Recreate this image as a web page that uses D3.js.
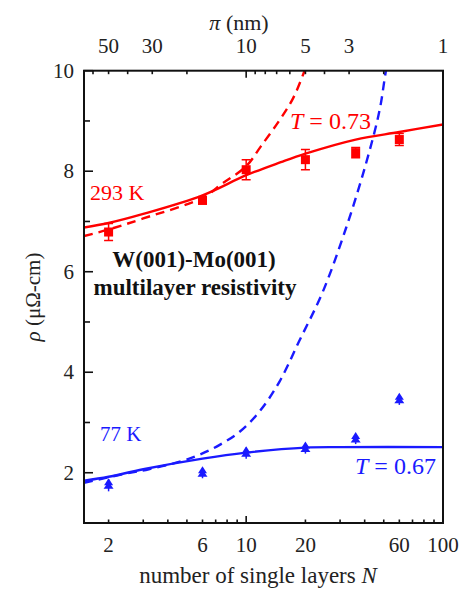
<!DOCTYPE html>
<html><head><meta charset="utf-8">
<script src="https://cdn.jsdelivr.net/npm/d3@7"></script>
<style>html,body{margin:0;padding:0;background:#fff;}svg{display:block;}</style>
</head><body>
<script>
// ---- data ----
const layersN = [2, 6, 10, 20, 36, 60];
const rho293 = [6.79, 7.42, 8.03, 8.23, 8.37, 8.63];
const err293 = [0.17, 0.07, 0.2, 0.2, 0.1, 0.12];
const rho77 = [1.77, 2.01, 2.41, 2.50, 2.69, 3.47];
const err77 = [0.1, 0.08, 0.09, 0.08, 0.08, 0.08];

const fit293N = [1.5, 2, 3, 6, 10, 15, 20, 36, 60, 100];
const fit293V = [6.88, 6.97, 7.15, 7.52, 7.92, 8.18, 8.35, 8.63, 8.78, 8.93];
const dash293N = [1.5, 2, 3, 6, 7.6, 10, 11.9, 14.8, 17.3, 19.8, 22];
const dash293V = [6.71, 6.84, 7.06, 7.47, 7.76, 8.1, 8.5, 9.02, 9.45, 10, 10.5];

const fit77N = [1.5, 2, 3, 6, 10, 20, 30, 100];
const fit77V = [1.84, 1.92, 2.07, 2.28, 2.40, 2.50, 2.51, 2.51];
const dash77N = [1.5, 2.36, 3.2, 4.6, 5.8, 7.3, 9.3, 11.7, 14.8, 18.6, 24.5, 32.3, 40.6, 47.6, 51.3, 55];
const dash77V = [1.80, 1.97, 2.07, 2.22, 2.36, 2.55, 2.82, 3.22, 3.82, 4.62, 5.6, 6.89, 8.15, 9.21, 10, 10.6];

const xTickLabels = [2, 6, 10, 20, 60, 100];
const xMinor = [2,3,4,5,6,7,8,9,10,20,30,40,50,60,70,80,90,100];
const topTickLabels = [50, 30, 10, 5, 3, 1];
const topMinor = [60,50,40,30,20,10,9,8,7,6,5,4,3,2,1];
const yTickLabels = [2, 4, 6, 8, 10];
const yMinor = [1, 3, 5, 7, 9];

// ---- layout ----
const W = 470, H = 589;
const L = 84, R = 443, T = 70.7, B = 523;
const RED = "#ff0000", BLUE = "#1a1aff";
const FONT = "'Liberation Serif', 'Times New Roman', serif";

const svg = d3.select("body").append("svg").attr("width", W).attr("height", H)
  .style("font-family", FONT);

const x = d3.scaleLog().domain([1.5, 100]).range([L, R]);
const y = d3.scaleLinear().domain([1, 10]).range([B, T]);
const piToN = p => 100 / p;

svg.append("clipPath").attr("id", "clip").append("rect")
  .attr("x", L).attr("y", T).attr("width", R - L).attr("height", B - T);

const g = svg.append("g").attr("clip-path", "url(#clip)");

const line = d3.line().x(d => x(d[0])).y(d => y(d[1])).curve(d3.curveCatmullRom.alpha(0.5));
const zip = (a, b) => a.map((v, i) => [v, b[i]]);

g.append("path").attr("d", line(zip(dash293N, dash293V))).attr("fill", "none")
  .attr("stroke", RED).attr("stroke-width", 2.4).attr("stroke-dasharray", "9,6");
g.append("path").attr("d", line(zip(fit293N, fit293V))).attr("fill", "none")
  .attr("stroke", RED).attr("stroke-width", 2.4);
g.append("path").attr("d", line(zip(dash77N, dash77V))).attr("fill", "none")
  .attr("stroke", BLUE).attr("stroke-width", 2.4).attr("stroke-dasharray", "9,6");
g.append("path").attr("d", line(zip(fit77N, fit77V))).attr("fill", "none")
  .attr("stroke", BLUE).attr("stroke-width", 2.4);

// red squares with error bars
layersN.forEach((n, i) => {
  const cx = x(n), cy = y(rho293[i]);
  const y1 = y(rho293[i] + err293[i]), y2 = y(rho293[i] - err293[i]);
  g.append("line").attr("x1", cx).attr("x2", cx).attr("y1", y1).attr("y2", y2).attr("stroke", RED).attr("stroke-width", 1.5);
  [y1, y2].forEach(yy => g.append("line").attr("x1", cx - 4.5).attr("x2", cx + 4.5).attr("y1", yy).attr("y2", yy).attr("stroke", RED).attr("stroke-width", 1.5));
  g.append("rect").attr("x", cx - 4.5).attr("y", cy - 4.5).attr("width", 9).attr("height", 9).attr("fill", RED);
});
// blue triangles with error bars
layersN.forEach((n, i) => {
  const cx = x(n), cy = y(rho77[i]);
  const y1 = y(rho77[i] + err77[i]), y2 = y(rho77[i] - err77[i]);
  g.append("line").attr("x1", cx).attr("x2", cx).attr("y1", y1).attr("y2", y2 + 2).attr("stroke", BLUE).attr("stroke-width", 1.5);
  g.append("path").attr("d", `M${cx},${cy - 6}L${cx + 4.5},${cy + 1}L${cx - 4.5},${cy + 1}Z`).attr("fill", BLUE);
  g.append("path").attr("d", `M${cx},${cy - 2.5}L${cx + 5},${cy + 4.5}L${cx - 5},${cy + 4.5}Z`).attr("fill", BLUE);
});

// ---- frame & ticks ----
const ax = svg.append("g").attr("stroke", "#111").attr("stroke-width", 1.6);
ax.append("rect").attr("x", L).attr("y", T).attr("width", R - L).attr("height", B - T).attr("fill", "none").attr("stroke-width", 2);

xMinor.forEach(n => {
  const len = (n === 10 || n === 100) ? 7 : 3.5;
  ax.append("line").attr("x1", x(n)).attr("x2", x(n)).attr("y1", B).attr("y2", B - len);
});
topMinor.forEach(p => {
  const len = (p === 10 || p === 1) ? 7 : 3.5;
  const xx = x(piToN(p));
  ax.append("line").attr("x1", xx).attr("x2", xx).attr("y1", T).attr("y2", T + len);
});
yTickLabels.forEach(v => ax.append("line").attr("x1", L).attr("x2", L + 9).attr("y1", y(v)).attr("y2", y(v)));
yMinor.forEach(v => ax.append("line").attr("x1", L).attr("x2", L + 6).attr("y1", y(v)).attr("y2", y(v)));

const txt = (t, xx, yy, opts = {}) => svg.append("text").attr("x", xx).attr("y", yy)
  .attr("font-size", opts.size || 21).attr("text-anchor", opts.anchor || "middle")
  .attr("fill", opts.fill || "#222").attr("font-weight", opts.weight || "normal").text(t);

xTickLabels.forEach(n => txt(String(n), x(n), 552));
topTickLabels.forEach(p => txt(String(p), x(piToN(p)), 53));
yTickLabels.forEach(v => txt(String(v), 74, y(v) + 7, { anchor: "end" }));

// axis titles
const tt = svg.append("text").attr("x", 258).attr("y", 583).attr("text-anchor", "middle")
  .attr("font-size", 23).attr("fill", "#222");
tt.append("tspan").text("number of single layers ");
tt.append("tspan").attr("font-style", "italic").text("N");

const tp = svg.append("text").attr("x", 239).attr("y", 30).attr("text-anchor", "middle")
  .attr("font-size", 22).attr("fill", "#222");
tp.append("tspan").attr("font-style", "italic").text("π");
tp.append("tspan").text(" (nm)");

const ty = svg.append("text").attr("transform", "translate(40,297) rotate(-90)").attr("text-anchor", "middle")
  .attr("font-size", 21).attr("fill", "#222");
ty.append("tspan").attr("font-style", "italic").text("ρ");
ty.append("tspan").text(" (μΩ-cm)");

// annotations
txt("293 K", 90, 200, { anchor: "start", fill: RED, size: 22 });
const t1 = svg.append("text").attr("x", 290).attr("y", 129).attr("font-size", 24).attr("fill", RED);
t1.append("tspan").attr("font-style", "italic").text("T");
t1.append("tspan").text(" = 0.73");
txt("77 K", 100, 441, { anchor: "start", fill: BLUE, size: 21 });
const t2 = svg.append("text").attr("x", 355).attr("y", 474).attr("font-size", 24).attr("fill", BLUE);
t2.append("tspan").attr("font-style", "italic").text("T");
t2.append("tspan").text(" = 0.67");
txt("W(001)-Mo(001)", 194, 267, { weight: "bold", fill: "#111", size: 23 });
txt("multilayer resistivity", 195, 295, { weight: "bold", fill: "#111", size: 23 });
</script>
</body></html>
